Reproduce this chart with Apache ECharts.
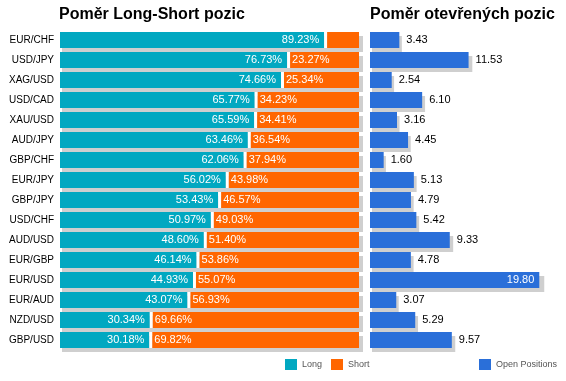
<!DOCTYPE html>
<html>
<head>
<meta charset="utf-8">
<script src="https://cdn.jsdelivr.net/npm/echarts@6/dist/echarts.min.js"></script>
<style>
html,body{margin:0;padding:0;background:#fff;}
#chart{width:566px;height:381px;}
</style>
</head>
<body>
<div id="chart"></div>
<script>
// ---- data ----
const pairs = ['EUR/CHF','USD/JPY','XAG/USD','USD/CAD','XAU/USD','AUD/JPY','GBP/CHF','EUR/JPY','GBP/JPY','USD/CHF','AUD/USD','EUR/GBP','EUR/USD','EUR/AUD','NZD/USD','GBP/USD'];
const longVals  = [89.23,76.73,74.66,65.77,65.59,63.46,62.06,56.02,53.43,50.97,48.60,46.14,44.93,43.07,30.34,30.18];
const shortVals = [10.77,23.27,25.34,34.23,34.41,36.54,37.94,43.98,46.57,49.03,51.40,53.86,55.07,56.93,69.66,69.82];
const openPos   = [3.43,11.53,2.54,6.10,3.16,4.45,1.60,5.13,4.79,5.42,9.33,4.78,19.80,3.07,5.29,9.57];

// ---- styling constants ----
const FONT = "'Liberation Sans', Arial, sans-serif";
const C_LONG = '#01A8C1', C_SHORT = '#FF6600', C_OPEN = '#2A6FD9', C_SHADOW = '#CFCFCF';
const GAP = 1; // white separator width (axis units)

const chart = echarts.init(document.getElementById('chart'), null, {renderer:'canvas'});

const catAxis = (gi, show) => ({
  type:'category', data:pairs, inverse:true, gridIndex:gi,
  axisLine:{show:false}, axisTick:{show:false}, splitLine:{show:false},
  axisLabel:{show:show, color:'#000', fontSize:10, fontFamily:FONT, margin:6}
});
const valAxis = (gi, max) => ({
  type:'value', min:0, max:max, gridIndex:gi, show:false
});

const option = {
  animation:false,
  backgroundColor:'#fff',
  title:[
    {text:'Poměr Long-Short pozic', left:59, top:7, padding:0, textStyle:{fontSize:16, fontWeight:'bold', color:'#000', fontFamily:FONT}},
    {text:'Poměr otevřených pozic', left:370, top:7, padding:0, textStyle:{fontSize:16, fontWeight:'bold', color:'#000', fontFamily:FONT}}
  ],
  legend:[
    {data:['Long','Short'], left:285, top:359, padding:0, icon:'rect', itemWidth:12, itemHeight:11, itemGap:9,
     textStyle:{fontSize:9, color:'#555', fontFamily:FONT}, selectedMode:false},
    {data:['Open Positions'], left:479, top:359, padding:0, icon:'rect', itemWidth:12, itemHeight:11,
     textStyle:{fontSize:9, color:'#555', fontFamily:FONT}, selectedMode:false}
  ],
  grid:[
    {left:60, top:30, width:299, height:320},   // 0 long/short
    {left:62, top:34, width:301, height:320},   // 1 long/short shadow
    {left:370, top:30, width:171, height:320},  // 2 open positions
    {left:372, top:34, width:174, height:320}   // 3 open positions shadow
  ],
  xAxis:[valAxis(0,100+GAP), valAxis(1,100+GAP), valAxis(2,20), valAxis(3,20)],
  yAxis:[catAxis(0,true), catAxis(1,false), catAxis(2,false), catAxis(3,false)],
  series:[
    {type:'bar', name:'shadowLS', xAxisIndex:1, yAxisIndex:1, barWidth:16, z:1, silent:true,
     itemStyle:{color:C_SHADOW}, data:longVals.map((v,i)=>v+shortVals[i]+GAP)},
    {type:'bar', name:'shadowOP', xAxisIndex:3, yAxisIndex:3, barWidth:16, z:1, silent:true,
     itemStyle:{color:C_SHADOW}, data:openPos.slice()},
    {type:'bar', name:'Long', stack:'ls', xAxisIndex:0, yAxisIndex:0, barWidth:16, z:3,
     itemStyle:{color:C_LONG},
     label:{show:true, position:'insideRight', distance:5, color:'#fff', fontSize:11, fontFamily:FONT,
            formatter:p=>p.value.toFixed(2)+'%'},
     data:longVals},
    {type:'bar', name:'gap', stack:'ls', xAxisIndex:0, yAxisIndex:0, barWidth:16, z:3, silent:true,
     itemStyle:{color:'#fff'}, data:longVals.map(()=>GAP)},
    {type:'bar', name:'Short', stack:'ls', xAxisIndex:0, yAxisIndex:0, barWidth:16, z:3,
     itemStyle:{color:C_SHORT},
     label:{show:true, position:'insideLeft', distance:2, color:'#fff', fontSize:11, fontFamily:FONT,
            formatter:p=>p.value < 15 ? '' : p.value.toFixed(2)+'%'},
     data:shortVals},
    {type:'bar', name:'Open Positions', xAxisIndex:2, yAxisIndex:2, barWidth:16, z:3,
     itemStyle:{color:C_OPEN},
     label:{show:true, position:'right', distance:7, color:'#000', fontSize:11, fontFamily:FONT,
            formatter:p=>p.value.toFixed(2)},
     data:openPos.map(v => v > 15
        ? {value:v, label:{position:'insideRight', distance:5, color:'#fff'}}
        : v)}
  ]
};
chart.setOption(option);
</script>
</body>
</html>
